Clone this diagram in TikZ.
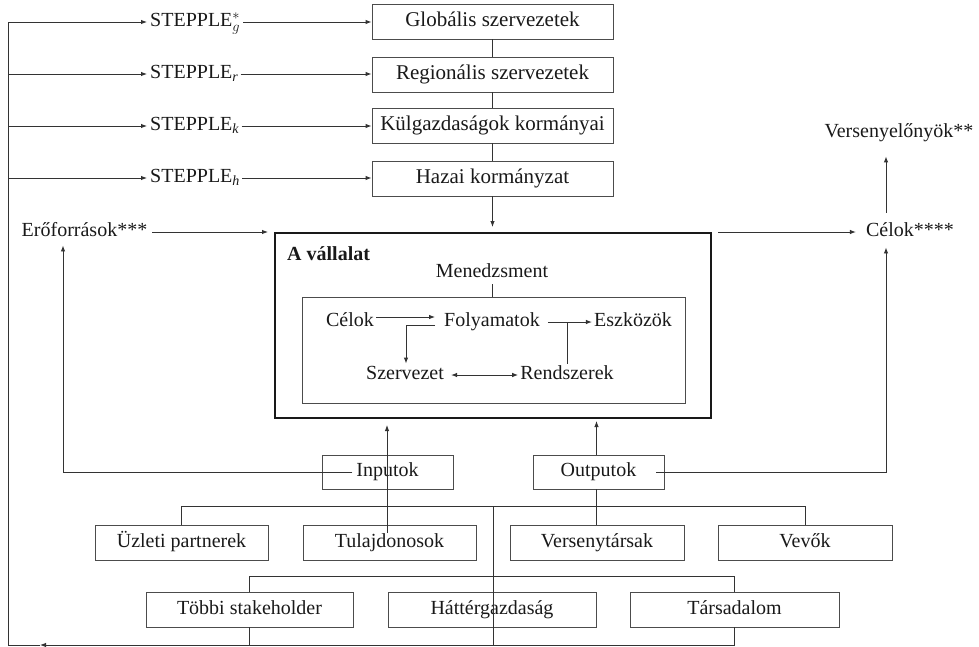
\documentclass[tikz,border=0pt]{standalone}
\usepackage{fontspec}
\setmainfont{Liberation Serif}
\usetikzlibrary{arrows.meta}
\begin{document}
\begin{tikzpicture}[x=1pt,y=-1pt,
  every node/.style={font=\fontsize{20}{24}\selectfont, text=black!90, text height=14pt, text depth=4.5pt, inner sep=2pt},
  box/.style={draw=black!70, line width=0.9pt, minimum height=35pt, inner sep=0pt},
  topbox/.style={box, minimum width=241pt, font=\fontsize{21}{25}\selectfont},
  ln/.style={draw=black!80, line width=0.9pt},
  arr/.style={ln, -{Latex[length=6pt,width=4.5pt]}},
  dbl/.style={ln, {Latex[length=6pt,width=4.5pt]}-{Latex[length=6pt,width=4.5pt]}}
  ]
\useasboundingbox (0,0) rectangle (979,647);

% top chain
\node[topbox] (glob) at (492.5,21.5) {Globális szervezetek};
\node[topbox] (reg) at (492.5,74.5) {Regionális szervezetek};
\node[topbox] (kul) at (492.5,125.5) {Külgazdaságok kormányai};
\node[topbox] (haz) at (492.5,178.5) {Hazai kormányzat};

\node[anchor=west, inner sep=0pt] (sg) at (150,22) {STEPPLE$^{*}_{g}$};
\node[anchor=west, inner sep=0pt] (sr) at (150,74) {STEPPLE\textsubscript{\textit{r}}};
\node[anchor=west, inner sep=0pt] (sk) at (150,126) {STEPPLE\textsubscript{\textit{k}}};
\node[anchor=west, inner sep=0pt] (sh) at (150,178) {STEPPLE\textsubscript{\textit{h}}};

\coordinate (lx) at (8,22);
\coordinate (lb) at (8,645);
\coordinate (ba) at (40,645);

\foreach \s in {sg,sr,sk,sh}{
  \draw[arr, shorten >=3pt] (lx |- \s.west) -- (\s.west);
}
\draw[arr, shorten <=3pt] (sg.east) -- (sg.east -| glob.west);
\draw[arr, shorten <=2pt] (sr.east) -- (sr.east -| reg.west);
\draw[arr, shorten <=2pt] (sk.east) -- (sk.east -| kul.west);
\draw[arr, shorten <=2pt] (sh.east) -- (sh.east -| haz.west);

\draw[ln] (glob.south) -- (reg.north);
\draw[ln] (reg.south) -- (kul.north);
\draw[ln] (kul.south) -- (haz.north);

% company box
\node[draw=black!90, line width=2pt, minimum width=436pt, minimum height=185pt, inner sep=0pt] (big) at (493,325.5) {};
\draw[arr, shorten >=5pt] (haz.south) -- (haz.south |- big.north);

\node[anchor=west, font=\fontsize{20}{24}\selectfont\bfseries] (av) at (285,256) {A vállalat};
\node (men) at (492,273) {Menedzsment};
\node[draw=black!70, line width=0.9pt, minimum width=383pt, minimum height=106pt, inner sep=0pt] (inner) at (493.5,350) {};
\draw[ln] (men.south) -- (men.south |- inner.north);

\node (celok) at (350,322) {Célok};
\node (foly) at (492,322) {Folyamatok};
\node (eszk) at (633,322) {Eszközök};
\node (szerv) at (405,375) {Szervezet};
\node (rend) at (567,375) {Rendszerek};

\draw[arr, shorten >=7pt] ([yshift=5pt]celok.east) -- ([yshift=5pt]foly.west);
\draw[arr] ([xshift=-7pt,yshift=-3pt]foly.west) -| ([xshift=1pt]szerv.north);
\draw[arr, shorten <=6pt] (foly.east) -- (eszk.west);
\draw[ln] (rend.north) -- (rend.north |- foly.east);
\draw[dbl, shorten <=5pt] (szerv.east) -- (rend.west);

% resources / goals
\node (erof) at (84.5,232) {Erőforrások***};
\node (cel4) at (910,232) {Célok****};
\node (vers) at (899,133) {Versenyelőnyök**};
\coordinate (cx) at (886,0);
\coordinate (ex) at (63,0);

\draw[arr, shorten <=3pt] (erof.east) -- ([xshift=-6pt]erof.east -| big.west);
\draw[arr, shorten >=8pt] ([xshift=6pt]cel4.west -| big.east) -- (cel4.west);
\draw[arr, shorten <=8pt, shorten >=12pt] (cx |- cel4.north) -- (cx |- vers.south);

% inputs / outputs
\node[box, minimum width=131pt, minimum height=34pt] (inp) at (387.5,472) {Inputok};
\node[box, minimum width=131pt, minimum height=34pt] (outp) at (598.5,472) {Outputok};

\draw[arr, shorten >=2pt] ([xshift=-4pt]inp.text |- inp.center) -| (ex |- erof.south);
\draw[arr, shorten >=4pt] ([xshift=-8pt]outp.east) -| (cx |- cel4.south);
\draw[arr, shorten >=2pt] ([xshift=-2pt]outp.north) -- ([xshift=-2pt]outp.north |- big.south);

% stakeholders
\node[box, minimum width=173pt] (uzl) at (181.5,542.5) {Üzleti partnerek};
\node[box, minimum width=173pt] (tul) at (389.5,542.5) {Tulajdonosok};
\node[box, minimum width=174pt] (vt) at (597,542.5) {Versenytársak};
\node[box, minimum width=174pt] (vev) at (805,542.5) {Vevők};
\node[box, minimum width=207pt] (tob) at (249.5,609.5) {Többi stakeholder};
\node[box, minimum width=208pt] (hat) at (492,609.5) {Háttérgazdaság};
\node[box, minimum width=209pt] (tar) at (734.5,609.5) {Társadalom};

\coordinate (tin) at (387,533);
\draw[arr, shorten >=6pt] (tin) -- (tin |- big.south);

\draw[ln] (uzl.north) -- ++(0,-18) -| (vev.north);
\draw[ln] ([xshift=-2pt]outp.south) -- ([xshift=-2pt]outp.south |- vt.north);
\draw[ln] (tob.north) -- ++(0,-15) -| (tar.north);
\coordinate (bh) at (493,507);
\draw[ln] (bh) -- (bh |- lb);
\draw[ln] (tob.south) -- (tob.south |- lb);
\draw[arr] (tar.south) -- (tar.south |- lb) -- (ba);
\draw[ln] (ba) -- (lb) -- (lx);
\end{tikzpicture}
\end{document}
